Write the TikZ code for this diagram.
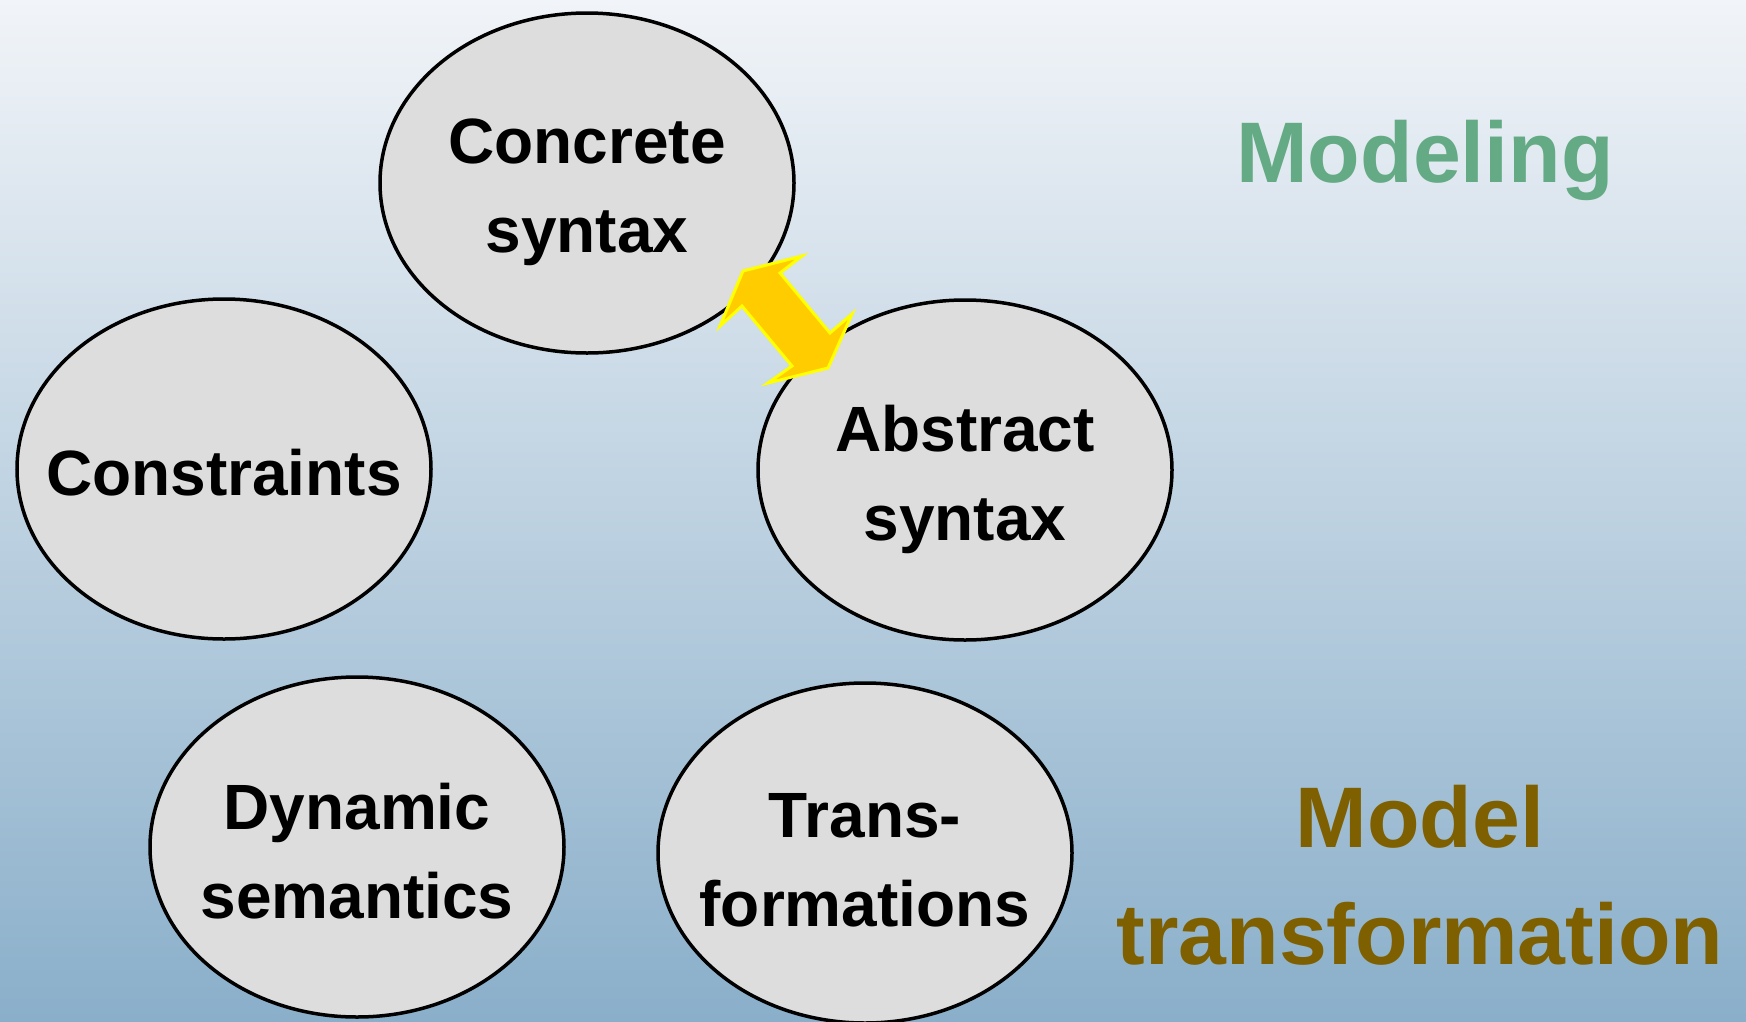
\documentclass[tikz,border=0pt]{standalone}
\usepackage{fontspec}
\setmainfont{Liberation Sans}
\usetikzlibrary{shapes.geometric}
\definecolor{bgtop}{RGB}{241,244,248}
\definecolor{bgbot}{RGB}{138,175,202}
\definecolor{ellfill}{RGB}{221,221,221}
\definecolor{modgreen}{RGB}{100,170,132}
\definecolor{olive}{RGB}{127,96,0}
\definecolor{arrowfill}{RGB}{255,204,0}
\definecolor{arrowedge}{RGB}{255,255,0}
\begin{document}
\begin{tikzpicture}[x=1pt,y=-1pt,
  topic/.style={ellipse, draw=black, line width=3.5pt, fill=ellfill,
    minimum width=414pt, minimum height=340pt, inner sep=0pt},
  topictext/.style={align=center, inner sep=0pt, yshift=-9pt,
    font=\bfseries\fontsize{64}{89}\selectfont},
  biglabel/.style={align=center, font=\bfseries\fontsize{86}{117}\selectfont}]
\useasboundingbox (0,0) rectangle (1746,1021);
\shade[top color=bgtop, bottom color=bgbot] (0,0) rectangle (1746,1021);
\node[topic] (concrete) at (587,183) {};
\node[topic] (constraints) at (224,469) {};
\node[topic] (abstract) at (965,470) {};
\node[topic] (dynamic) at (357,847) {};
\node[topic] (trans) at (865,853) {};
\node[topictext] (concreteT) at (concrete) {Concrete\\syntax};
\node[topictext, yshift=5pt] (constraintsT) at (constraints) {Constraints};
\node[topictext, yshift=5pt] (dynamicT) at (dynamic) {Dynamic\\semantics};
\node[topictext] (abstractT) at (abstract) {Abstract\\syntax};
\node[topictext, yshift=2pt] (transT) at (trans) {Trans-\\formations};
\node[biglabel, text=modgreen] (modeling) at (1425,160) {Modeling};
\node[biglabel, text=olive] (modtrans) at (1420,875) {Model\\transformation};
\fill[arrowfill, draw=arrowedge, line width=3pt, line join=miter]
  (743,271) -- (802,256) -- (780,273) -- (830,333) -- (852,314)
  -- (828,368) -- (768,383) -- (792,366) -- (742,306) -- (720,326) -- cycle;
\end{tikzpicture}
\end{document}
